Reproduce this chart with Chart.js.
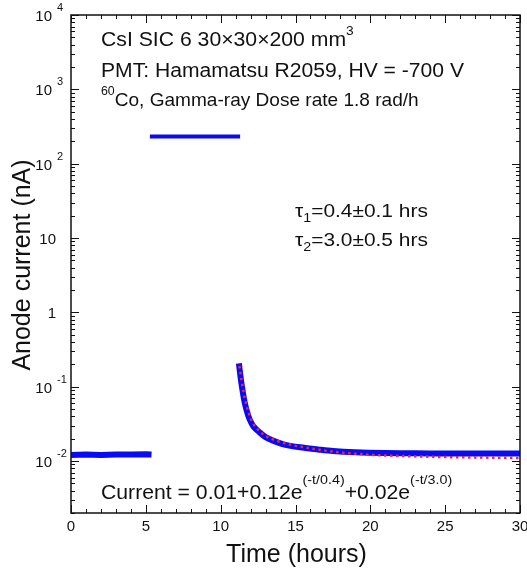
<!DOCTYPE html>
<html>
<head>
<meta charset="utf-8">
<title>Anode current</title>
<script src="https://cdn.jsdelivr.net/npm/chart.js@4/dist/chart.umd.min.js"></script>
<style>
  html, body { margin: 0; padding: 0; background: #fff; }
</style>
</head>
<body>
<canvas id="my-chart" width="527" height="570"></canvas>
<script>
'use strict';

//  DATA
let baseTime = [0, 1, 2, 3, 4, 5, 5.38];
let baseCurrent = [0.0121, 0.0122, 0.0121, 0.0122, 0.0122, 0.0123, 0.0122];

let doseTime = [5.27, 7, 9, 11.3];
let doseCurrent = [232, 232, 232, 232];

let decayTime = [11.22, 11.3, 11.38, 11.5, 11.6, 11.75, 11.93, 12.2, 12.6, 13.0, 13.5, 14.2, 15.3, 16.5, 17.5, 19, 21, 23, 25, 27, 30];
let decayCurrent = [0.206, 0.15, 0.114, 0.08, 0.062, 0.047, 0.0366, 0.029, 0.0243, 0.021, 0.0188, 0.0168, 0.0153, 0.0143, 0.0136, 0.0131, 0.0128, 0.0127, 0.0126, 0.0126, 0.0126];

let fitTime = [11.25, 11.4, 11.6, 11.8, 12.0, 12.3, 12.7, 13.2, 14, 15, 16, 17, 18, 20, 22, 25, 28, 30];
let fitCurrent = [0.19, 0.12, 0.07, 0.05, 0.037, 0.029, 0.024, 0.0205, 0.018, 0.016, 0.0148, 0.0138, 0.013, 0.0121, 0.0117, 0.0113, 0.0111, 0.011];

let xTicks = [0, 5, 10, 15, 20, 25, 30];
let yTicks = [10000, 1000, 100, 10, 1, 0.1, 0.01];
let yTickBase = ['10', '10', '10', '10', '1', '10', '10'];
let yTickExp = ['4', '3', '2', '', '', '-1', '-2'];

//  STYLE
let FONT = '"Liberation Sans", Arial, sans-serif';
let BLUE = '#0a0af5';
let RED = '#e8283c';

//  HELPERS
function toPoints(xs, ys) {
  let pts = [];
  for (let i = 0; i < xs.length; i++) {
    pts.push({ x: xs[i], y: ys[i] });
  }
  return pts;
}

// draws a run of text pieces (sizes + vertical shifts), stretched by sx
function drawRich(ctx, x, y, sx, parts) {
  ctx.save();
  ctx.translate(x, y);
  ctx.scale(sx, 1);
  let cx = 0;
  for (let i = 0; i < parts.length; i++) {
    let p = parts[i];
    ctx.font = p.size + 'px ' + FONT;
    ctx.fillText(p.text, cx, p.dy || 0);
    cx += ctx.measureText(p.text).width;
  }
  ctx.restore();
}

//  PLUGIN FOR FRAME, INWARD TICKS, LABELS AND NOTES
let decorations = {
  id: 'decorations',
  afterDatasetsDraw(chart) {
    let ctx = chart.ctx;
    let area = chart.chartArea;
    let xs = chart.scales.x;
    let ys = chart.scales.y;

    ctx.save();
    ctx.strokeStyle = '#111';
    ctx.fillStyle = '#111';

    // frame
    ctx.lineWidth = 1.5;
    ctx.strokeRect(area.left, area.top, area.right - area.left, area.bottom - area.top);

    // x ticks every hour, long ones every 5
    ctx.lineWidth = 1;
    ctx.beginPath();
    for (let t = 0; t <= 30; t++) {
      let px = Math.round(xs.getPixelForValue(t)) + 0.5;
      let len = t % 5 === 0 ? 8 : 4;
      ctx.moveTo(px, area.bottom);
      ctx.lineTo(px, area.bottom - len);
      ctx.moveTo(px, area.top);
      ctx.lineTo(px, area.top + len);
    }
    // y ticks, decades and minor steps
    for (let d = -3; d <= 4; d++) {
      for (let m = 1; m <= 9; m++) {
        let v = m * Math.pow(10, d);
        if (v < ys.min || v > ys.max) continue;
        let py = Math.round(ys.getPixelForValue(v)) + 0.5;
        let len = m === 1 ? 8 : 4;
        ctx.moveTo(area.left, py);
        ctx.lineTo(area.left + len, py);
        ctx.moveTo(area.right, py);
        ctx.lineTo(area.right - len, py);
      }
    }
    ctx.stroke();

    // x tick labels
    ctx.textAlign = 'center';
    ctx.textBaseline = 'alphabetic';
    ctx.font = '15px ' + FONT;
    for (let i = 0; i < xTicks.length; i++) {
      ctx.fillText(String(xTicks[i]), xs.getPixelForValue(xTicks[i]), area.bottom + 18);
    }

    // y tick labels with exponents
    for (let i = 0; i < yTicks.length; i++) {
      let py = ys.getPixelForValue(yTicks[i]);
      ctx.font = '15px ' + FONT;
      if (yTickExp[i]) {
        ctx.textAlign = 'right';
        ctx.fillText(yTickBase[i], 52, py + 6);
        ctx.textAlign = 'left';
        ctx.font = '11px ' + FONT;
        ctx.fillText(yTickExp[i], 57, py - 4);
      } else {
        ctx.textAlign = 'right';
        ctx.fillText(yTickBase[i], 56, py + 6);
      }
    }

    // axis titles
    ctx.textAlign = 'center';
    ctx.font = '25px ' + FONT;
    ctx.fillText('Time (hours)', (area.left + area.right) / 2 + 1, 562);
    ctx.save();
    ctx.translate(30, (area.top + area.bottom) / 2 + 1);
    ctx.rotate(-Math.PI / 2);
    ctx.fillText('Anode current (nA)', 0, 0);
    ctx.restore();

    // notes in the plot
    ctx.textAlign = 'left';
    drawRich(ctx, 101, 46, 1.06, [
      { text: 'CsI SIC 6 30\u00d730\u00d7200 mm', size: 20 },
      { text: '3', size: 13, dy: -11 }
    ]);
    drawRich(ctx, 101, 77, 1.055, [{ text: 'PMT: Hamamatsu R2059, HV = -700 V', size: 20 }]);
    drawRich(ctx, 101, 106, 1.03, [
      { text: '60', size: 12, dy: -11 },
      { text: 'Co, Gamma-ray Dose rate 1.8 rad/h', size: 18.5 }
    ]);
    drawRich(ctx, 295, 217, 1.1, [
      { text: '\u03c4', size: 19 },
      { text: '1', size: 13, dy: 5 },
      { text: '=0.4\u00b10.1 hrs', size: 19 }
    ]);
    drawRich(ctx, 295, 246, 1.1, [
      { text: '\u03c4', size: 19 },
      { text: '2', size: 13, dy: 5 },
      { text: '=3.0\u00b10.5 hrs', size: 19 }
    ]);
    drawRich(ctx, 101, 499, 1.06, [
      { text: 'Current = 0.01+0.12e', size: 20 },
      { text: '(-t/0.4)', size: 13.5, dy: -15 },
      { text: '+0.02e', size: 20 },
      { text: '(-t/3.0)', size: 13.5, dy: -15 }
    ]);

    ctx.restore();
  }
};

//  CHART.JS CONFIG
let canvasElem = document.getElementById('my-chart');

let theChart = {
  type: 'scatter',
  data: {
    datasets: [
      {
        label: 'fit',
        data: toPoints(fitTime, fitCurrent),
        showLine: true,
        borderColor: RED,
        borderWidth: 2.5,
        borderDash: [2.5, 3.5],
        pointRadius: 0,
        order: 0
      },
      {
        label: 'baseline',
        data: toPoints(baseTime, baseCurrent),
        showLine: true,
        borderColor: BLUE,
        borderWidth: 6,
        pointRadius: 0,
        order: 1
      },
      {
        label: 'irradiation',
        data: toPoints(doseTime, doseCurrent),
        showLine: true,
        borderColor: BLUE,
        borderWidth: 4,
        pointRadius: 0,
        order: 1
      },
      {
        label: 'recovery',
        data: toPoints(decayTime, decayCurrent),
        showLine: true,
        borderColor: BLUE,
        borderWidth: 6,
        pointRadius: 0,
        tension: 0.3,
        order: 1
      }
    ]
  },
  options: {
    responsive: false,
    animation: false,
    devicePixelRatio: 1,
    layout: {
      padding: { left: 71, right: 7, top: 15, bottom: 57 }
    },
    plugins: {
      legend: { display: false },
      tooltip: { enabled: false }
    },
    scales: {
      x: { type: 'linear', min: 0, max: 30, display: false },
      y: { type: 'logarithmic', min: 0.002, max: 10000, display: false }
    }
  },
  plugins: [decorations]
};

new Chart(canvasElem, theChart);
</script>
</body>
</html>
